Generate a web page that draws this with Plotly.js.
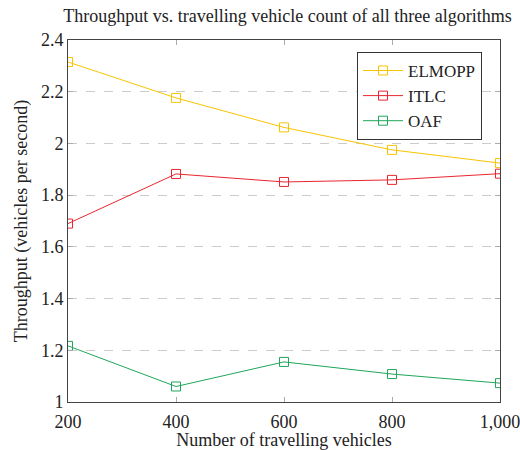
<!DOCTYPE html>
<html>
<head>
<meta charset="utf-8">
<script src="https://cdn.plot.ly/plotly-3.0.1.min.js"></script>
<style>html,body{margin:0;padding:0;background:#fff;}#chart{width:520px;height:450px;}</style>
</head>
<body>
<div id="chart"></div>
<script>
const vehicles = [200, 400, 600, 800, 1000];
const elmopp = [2.315, 2.176, 2.062, 1.975, 1.924];
const itlc = [1.690, 1.882, 1.851, 1.859, 1.883];
const oaf = [1.217, 1.060, 1.155, 1.108, 1.073];
const seriesNames = ["ELMOPP", "ITLC", "OAF"];
const colors = ["#f8c400", "#e8262f", "#1fa65a"];
const yTicks = [1, 1.2, 1.4, 1.6, 1.8, 2, 2.2, 2.4];

const font = "Liberation Serif";
const data = [elmopp, itlc, oaf].map((ys, i) => ({
  x: vehicles, y: ys, name: seriesNames[i], type: "scatter", mode: "lines+markers",
  line: {color: colors[i], width: 1},
  marker: {symbol: "square-open", size: 9, color: colors[i], line: {width: 1}}
}));

const layout = {
  width: 520, height: 450,
  margin: {l: 68, r: 20, t: 40, b: 48},
  paper_bgcolor: "#fff", plot_bgcolor: "#fff",
  font: {family: font, size: 18, color: "#222"},
  title: {text: "Throughput vs. travelling vehicle count of all three algorithms", x: 0.508, xref: "paper", xanchor: "center", y: 0.966, yanchor: "middle", font: {family: font, size: 18, color: "#222"}},
  xaxis: {
    range: [200, 1000], tickvals: vehicles, separatethousands: true,
    ticklabeloverflow: "allow", ticklabelstandoff: 3,
    showgrid: false, zeroline: false,
    showline: true, linecolor: "#444", linewidth: 1, mirror: "ticks",
    ticks: "inside", ticklen: 5, tickcolor: "#aaa",
    tickfont: {family: font, size: 18, color: "#222"},
    title: {text: "Number of travelling vehicles", font: {family: font, size: 18, color: "#222"}, standoff: 2}
  },
  yaxis: {
    range: [1, 2.4], tickvals: yTicks,
    showgrid: true, gridcolor: "#ccc", griddash: "dash", gridwidth: 1, zeroline: false,
    showline: true, linecolor: "#444", linewidth: 1, mirror: "ticks",
    ticks: "inside", ticklen: 5, tickcolor: "#aaa",
    tickfont: {family: font, size: 18, color: "#222"},
    title: {text: "Throughput (vehicles per second)", font: {family: font, size: 18, color: "#222"}, standoff: 8}
  },
  legend: {
    x: 0.669, y: 0.967, xanchor: "left", yanchor: "top",
    bordercolor: "#333", borderwidth: 1, bgcolor: "#fff",
    itemwidth: 40,
    font: {family: font, size: 17, color: "#222"}, tracegroupgap: 0
  },
  showlegend: true
};
Plotly.newPlot("chart", data, layout, {displayModeBar: false, staticPlot: true});
</script>
</body>
</html>
